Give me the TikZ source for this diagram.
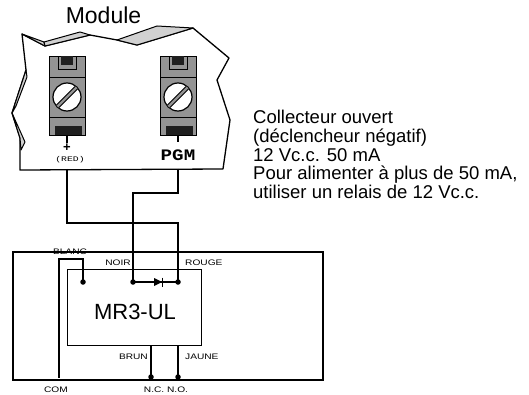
\documentclass[tikz,border=0pt]{standalone}
\usepackage{fontspec}
\usepackage{graphicx}
\setmainfont{Liberation Sans}
\newfontfamily\monofont{Liberation Mono}
\newcommand\wlab[1]{\scalebox{1.27}[1]{#1}}
\begin{document}
\begin{tikzpicture}[x=1pt,y=-1pt,
  wire/.style={line width=2.4pt},
  outline/.style={line width=1.3pt, line join=round},
  foldfill/.style={fill=black!18, draw=black, line width=1pt, line join=round},
  lab/.style={inner sep=0pt, font=\fontsize{8}{8}\selectfont},
  dot/.style={circle, fill=black, inner sep=0pt, minimum size=5.5pt},
  tbody/.style={fill=black!42, draw=black, line width=0.8pt},
  tdark/.style={fill=black!88},
  bigtxt/.style={inner sep=0pt}]
\useasboundingbox (0,0) rectangle (529,395);

% ---------- Module outline ----------
\draw[outline, fill=white] (20,170) -- (20,138) -- (12,113) -- (26,70) -- (22,34) -- (45,46)
  -- (90,35) -- (117,40) -- (137,45) -- (193,28) -- (229,58) -- (217,80) -- (230,120)
  -- (223,169) -- cycle;
\draw[foldfill] (22,34) -- (44,42) -- (45,46) -- cycle;
\draw[foldfill] (44,42) -- (80,32) -- (90,35) -- (45,46) -- cycle;
\draw[foldfill] (117,40) -- (157,26) -- (193,28) -- (137,45) -- cycle;
\draw[foldfill] (26,70) -- (12,113) -- (16,106) -- (27,77) -- cycle;
\draw[foldfill] (12,113) -- (25,142) -- (21,150) -- (20,138) -- cycle;

\node[bigtxt, font=\fontsize{23}{23}\selectfont] (module) at (103.5,15) {Module};

% ---------- Terminals ----------
\foreach \cx in {67,178}{
  \begin{scope}[shift={(\cx,0)}]
    \draw[tbody] (-18,56) rectangle (18,135);
    \draw[tbody] (-9,56) rectangle (9,69);
    \fill[tdark] (-6,56.5) rectangle (6,65);
    \draw[line width=0.8pt] (-18,77) -- (18,77);
    \draw[line width=0.8pt] (-18,117) -- (18,117);
    \draw[fill=white, line width=1.2pt] (0,97) circle (14);
    \begin{scope}
      \clip (0,97) circle (13.4);
      \draw[fill=black!42, line width=0.8pt, rotate around={45:(0,97)}] (-16,95.2) rectangle (16,98.8);
    \end{scope}
    \fill[tdark] (-12,126) rectangle (15,135);
  \end{scope}
}
\coordinate (plustop) at (67,135);
\coordinate (plusstub) at (67,143);
\coordinate (plusout) at (67,169);
\coordinate (pgmtop) at (178,135);
\coordinate (pgmstub) at (178,142);
\coordinate (pgmout) at (178,169);
\draw[line width=2pt] (plustop) -- (plusstub);
\draw[line width=2pt] (pgmtop) -- (pgmstub);
\node[inner sep=0pt, font=\fontsize{13}{13}\bfseries\selectfont] (plusl) at (67,148) {+};
\node[inner sep=0pt, font=\fontsize{7}{7}\monofont\selectfont] (redl) at (70,160) {\scalebox{1.4}[1]{(RED)}};
\node[inner sep=0pt, font=\fontsize{16}{16}\monofont\bfseries\selectfont] (pgml) at (178,155.5) {\scalebox{1.2}[1]{PGM}};

% ---------- Right text ----------
\node[bigtxt, anchor=north west, align=left, font=\fontsize{18.5}{18.7}\selectfont] (note) at (253,110)
  {Collecteur ouvert\\(déclencheur négatif)\\12 Vc.c. 50 mA\\Pour alimenter à plus de 50 mA,\\utiliser un relais de 12 Vc.c.};

% ---------- Relay labels (under the box lines) ----------
\node[lab] (blanc) at (70,252) {\wlab{BLANC}};
\node[lab, anchor=east] (noir) at (131,263) {\wlab{NOIR}};
\node[lab, anchor=west] (rouge) at (185,263) {\wlab{ROUGE}};
\node[lab, anchor=east] (brun) at (148,357) {\wlab{BRUN}};
\node[lab, anchor=west] (jaune) at (185,357) {\wlab{JAUNE}};
\node[lab] (com) at (56,390) {\wlab{COM}};
\node[lab] (ncno) at (166,390) {\wlab{N.C.\ N.O.}};

% ---------- Boxes ----------
\draw[line width=2.7pt] (13,252) rectangle (323,380);
\node[draw, line width=0.9pt, minimum width=134pt, minimum height=76pt, inner sep=0pt] (relay) at (134,307) {};
\node[bigtxt, font=\fontsize{22}{22}\selectfont] (mr) at (135,311.5) {MR3-UL};

% ---------- Junction points ----------
\node[dot] (dblanc) at (83,282) {};
\node[dot] (dnoir) at (133,282) {};
\node[dot] (drouge) at (178,282) {};
\node[dot] (dnc) at (151,377) {};
\node[dot] (dno) at (178,377) {};
\coordinate (b1) at (83,259);
\coordinate (b2) at (59,259);
\coordinate (b3) at (59,378);
\coordinate (p1) at (67,223);
\coordinate (p2) at (178,223);
\coordinate (g1) at (178,193);
\coordinate (g2) at (133,193);
\coordinate (nctop) at (151,345);
\coordinate (notop) at (178,345);

% ---------- Wires ----------
\draw[wire] (plusout) -- (p1) -- (p2) -- (drouge.center);
\draw[wire] (pgmout) -- (g1) -- (g2) -- (dnoir.center);
\draw[wire] (dblanc.center) -- (b1) -- (b2) -- (b3);
\draw[wire] (nctop) -- (dnc.center);
\draw[wire] (notop) -- (dno.center);

% ---------- Diode ----------
\draw[line width=1.8pt] (dnoir.center) -- (drouge.center);
\fill (154,278) -- (162,282) -- (154,286) -- cycle;
\draw[line width=1.6pt] (162.5,277.5) -- (162.5,286.5);
\end{tikzpicture}
\end{document}
